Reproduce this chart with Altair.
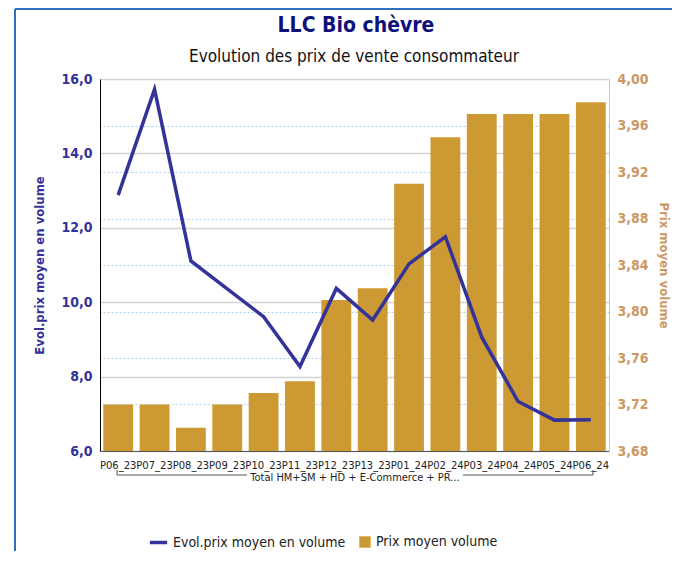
import altair as alt
import pandas as pd

periods = ["P06_23", "P07_23", "P08_23", "P09_23", "P10_23", "P11_23", "P12_23",
           "P13_23", "P01_24", "P02_24", "P03_24", "P04_24", "P05_24", "P06_24"]
evol_prix = [12.88, 15.72, 11.11, 10.36, 9.61, 8.27, 10.37, 9.52, 11.03, 11.76, 9.06, 7.33, 6.83, 6.84]
prix_moyen = [3.72, 3.72, 3.70, 3.72, 3.73, 3.74, 3.81, 3.82, 3.91, 3.95, 3.97, 3.97, 3.97, 3.98]
left_ticks = [6, 8, 10, 12, 14, 16]
right_ticks = [3.68, 3.72, 3.76, 3.80, 3.84, 3.88, 3.92, 3.96, 4.00]

TITLE = "LLC Bio chèvre"
SUBTITLE = "Evolution des prix de vente consommateur"
GROUP_LABEL = "Total HM+SM + HD + E-Commerce + PR..."
LINE_NAME = "Evol.prix moyen en volume"
BAR_NAME = "Prix moyen volume"

BAR_COLOR = "#cc9933"
LINE_COLOR = "#333399"
RIGHT_LBL = "#cc9966"
FONT = "DejaVu Sans Condensed, DejaVu Sans"

df = pd.DataFrame({"periode": periods, "evol": evol_prix, "prix": prix_moyen,
                   "s_line": LINE_NAME, "s_bar": BAR_NAME})
one = pd.DataFrame({"k": [0]})  # single row for decorations

W, H = 509, 372

x_enc = alt.X("periode:N", sort=periods,
              scale=alt.Scale(paddingInner=0.18, paddingOuter=0.09),
              axis=alt.Axis(title=GROUP_LABEL, labelAngle=0,
                            labelOverlap=False, labelBound=False, labelFontSize=10,
                            labelColor="#222222", labelFont="DejaVu Sans", ticks=False,
                            labelPadding=9, domainColor="#555555",
                            titleFont=FONT, titleFontSize=11, titleFontWeight="normal",
                            titleColor="#222222", titleBaseline="alphabetic", titleY=29))

bars = alt.Chart(df).mark_bar().encode(
    x=x_enc,
    y=alt.Y("prix:Q", scale=alt.Scale(domain=[3.68, 4.0], zero=False, nice=False),
            axis=alt.Axis(orient="right", values=right_ticks, grid=True, gridDash=[2, 2],
                          gridColor="#a8d0f5", ticks=False, domainColor="#a8d0f5",
                          labelExpr="replace(format(datum.value, '.2f'), '.', ',')",
                          labelFont=FONT, labelFontSize=14, labelFontWeight="bold",
                          labelColor=RIGHT_LBL, labelPadding=8,
                          title=BAR_NAME, titleFont=FONT, titleFontSize=13,
                          titleColor=RIGHT_LBL, titlePadding=8)),
    y2=alt.datum(3.68),
    fill=alt.Fill("s_bar:N", scale=alt.Scale(domain=[BAR_NAME], range=[BAR_COLOR]),
                  legend=alt.Legend(title=None, orient="none", legendX=258, legendY=456,
                                    symbolType="square", symbolSize=130, labelLimit=400,
                                    labelFont=FONT, labelFontSize=14, labelColor="#222222")),
)

line = alt.Chart(df).mark_line(strokeWidth=3.5).encode(
    x=alt.X("periode:N", sort=periods),
    y=alt.Y("evol:Q", scale=alt.Scale(domain=[6, 16], zero=False, nice=False),
            axis=alt.Axis(orient="left", values=left_ticks, grid=True, gridColor="#d4d4d4",
                          gridWidth=1.5, ticks=False, domainColor="#000000",
                          labelExpr="replace(format(datum.value, '.1f'), '.', ',')",
                          labelFont=FONT, labelFontSize=14, labelFontWeight="bold",
                          labelColor=LINE_COLOR, labelPadding=8,
                          title=LINE_NAME, titleFont=FONT, titleFontSize=13,
                          titleColor=LINE_COLOR, titlePadding=14)),
    stroke=alt.Stroke("s_line:N", scale=alt.Scale(domain=[LINE_NAME], range=[LINE_COLOR]),
                      legend=alt.Legend(title=None, orient="none", legendX=48, legendY=453,
                                        symbolType="stroke", symbolSize=300,
                                        symbolStrokeWidth=3.5, labelLimit=400,
                                        labelFont=FONT, labelFontSize=14, labelColor="#222222")),
)

rule_style = dict(color="#555555", strokeWidth=1)
bracket_h1 = alt.Chart(one).mark_rule(**rule_style).encode(
    x=alt.value(17), x2=alt.value(147), y=alt.value(396))
bracket_h2 = alt.Chart(one).mark_rule(**rule_style).encode(
    x=alt.value(363), x2=alt.value(493), y=alt.value(396))
bracket_v1 = alt.Chart(one).mark_rule(**rule_style).encode(
    x=alt.value(17), y=alt.value(391), y2=alt.value(396))
bracket_v2 = alt.Chart(one).mark_rule(**rule_style).encode(
    x=alt.value(493), y=alt.value(391), y2=alt.value(396))

frame_style = dict(color="#2f6fc0", strokeWidth=2)
frame_v = alt.Chart(one).mark_rule(**frame_style).encode(
    x=alt.value(-85), y=alt.value(-70), y2=alt.value(500))
frame_h = alt.Chart(one).mark_rule(**frame_style).encode(
    x=alt.value(-85), x2=alt.value(600), y=alt.value(-70))

title_txt = alt.Chart(one).mark_text(font=FONT, fontSize=21, fontWeight="bold", color="#10107a",
                                     align="center", baseline="alphabetic").encode(
    x=alt.value(256), y=alt.value(-47), text=alt.value(TITLE))
subtitle_txt = alt.Chart(one).mark_text(font=FONT, fontSize=17, color="#111111",
                                        align="center", baseline="alphabetic").encode(
    x=alt.value(254), y=alt.value(-17), text=alt.value(SUBTITLE))

chart = alt.layer(bars, line, bracket_h1, bracket_h2, bracket_v1, bracket_v2,
                  frame_v, frame_h, title_txt, subtitle_txt).resolve_scale(
    y="independent", fill="independent", stroke="independent"
).properties(
    width=W, height=H,
    autosize=alt.AutoSizeParams(type="none"),
    padding={"left": 92, "top": 71, "right": 63, "bottom": 100},
).configure_view(stroke=None).configure(background="white")

chart.save("out.html", embed_options={"renderer": "svg", "actions": False})
